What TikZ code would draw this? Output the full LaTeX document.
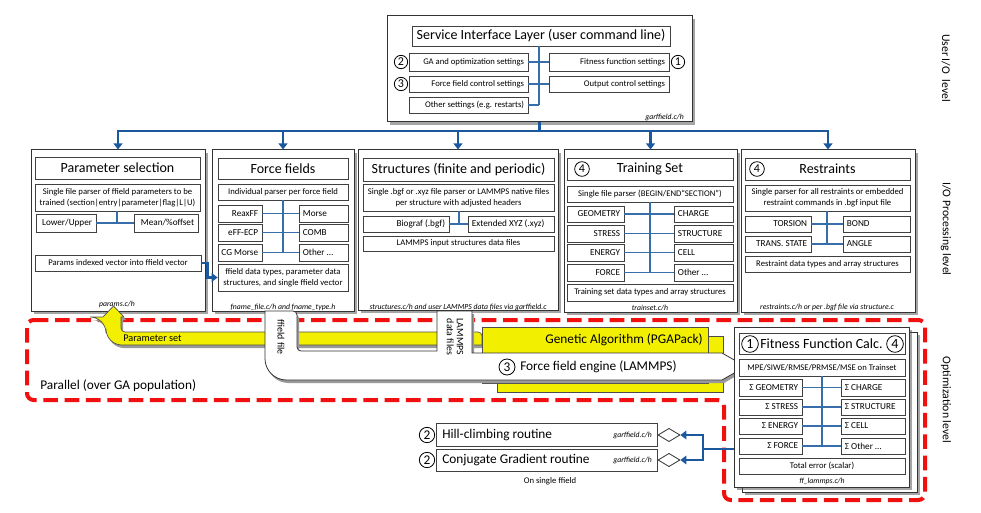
\documentclass[tikz,border=0pt]{standalone}
\usepackage{fontspec}
\setmainfont{Carlito}
\usetikzlibrary{fit,shadows,shapes.geometric,arrows.meta,calc}
\definecolor{lblue}{RGB}{55,110,170}
\definecolor{dblue}{RGB}{28,88,158}
\definecolor{yel}{RGB}{242,240,0}
\definecolor{rd}{RGB}{240,16,16}
\newcommand\fBig{\fontsize{10.5pt}{12pt}\selectfont}
\newcommand\fMed{\fontsize{10pt}{12pt}\selectfont}
\newcommand\fRow{\fontsize{6.9pt}{8pt}\selectfont}
\newcommand\fSm{\fontsize{6.5pt}{8.2pt}\selectfont}
\newcommand\fFoot{\fontsize{5.8pt}{6.8pt}\selectfont\itshape}
\newcommand\fLvl{\fontsize{8.8pt}{10pt}\selectfont}
\newcommand\fNum{\fontsize{9pt}{10pt}\selectfont}
\newcommand\BxC[7]{\node[ib, fit={(#1,#2)(#3,#4)}] (#5) {};
  \node[font=#6, align=center, inner sep=0pt] (#5t) at (#5.center) {#7};}
\newcommand\BxR[7]{\node[ib, fit={(#1,#2)(#3,#4)}] (#5) {};
  \node[font=#6, anchor=east, inner sep=0pt] (#5t) at ([xshift=-3pt]#5.east) {#7};}
\newcommand\BxL[7]{\node[ib, fit={(#1,#2)(#3,#4)}] (#5) {};
  \node[font=#6, anchor=west, inner sep=0pt] (#5t) at ([xshift=3pt]#5.west) {#7};}
\newcommand\pipepath{(265,311) {[rounded corners=16pt] -- (265,380) -- (500,380)} -- (722,380) -- (736,372) -- (736,361) -- (722,353) -- (472,353) -- (472,311) -- (437,311) -- (437,351) {[rounded corners=3pt] -- (297,351) -- (297,311)} -- cycle}
\newcommand\yelpath{(482,345) {[rounded corners=12pt] -- (106,345) -- (106,317)} -- (103,317) -- (113.5,306) -- (124,317) -- (121,317) {[rounded corners=3pt] -- (121,332) -- (482,332)} -- cycle}
\begin{document}
\begin{tikzpicture}[x=0.75pt,y=-0.75pt,
  outer/.style={draw=black!80, line width=0.75pt, fill=white, inner sep=0pt,
    drop shadow={shadow xshift=2pt, shadow yshift=-2pt, opacity=0.5, fill=black!70}},
  ib/.style={draw=black!75, line width=0.55pt, fill=white, inner sep=0pt,
    drop shadow={shadow xshift=0.7pt, shadow yshift=-0.7pt, opacity=0.25}},
  yelbox/.style={draw=black!70, line width=0.5pt, fill=yel, inner sep=0pt,
    drop shadow={shadow xshift=1pt, shadow yshift=-1pt, opacity=0.35}},
  num/.style={circle, draw=black, line width=0.6pt, fill=white, inner sep=0pt, minimum size=10pt, font=\fNum},
  bl/.style={draw=lblue, line width=1pt},
  bus/.style={draw=dblue, line width=2.2pt},
  btip/.style={-{Triangle[width=6.5pt,length=4.5pt]}},
  foot/.style={font=\fFoot, inner sep=0pt}]
\useasboundingbox (0,0) rectangle (981,513);

% ---------------- Service interface layer
\node[outer, fit={(387,16)(692,122)}] (sil) {};
\BxC{412}{26}{670}{46}{silti}{\fBig}{Service Interface Layer (user command line)}
\BxR{409}{53}{528}{71}{ga}{\fSm}{GA and optimization settings}
\BxR{549}{53}{669}{71}{fitset}{\fSm}{Fitness function settings}
\BxR{409}{76}{528}{92}{ffc}{\fSm}{Force field control settings}
\BxR{549}{76}{669}{92}{outc}{\fSm}{Output control settings}
\BxR{409}{97}{528}{113}{oth}{\fSm}{Other settings (e.g. restarts)}
\node[num] (n2a) at (401,62) {2};
\node[num] (n3a) at (401,84) {3};
\node[num] (n1a) at (678,62) {1};
\coordinate (silv) at (539,105);
\draw[bl] (silti.south -| silv) -- (silv);
\draw[bl] (ga.east) -- (fitset.west);
\draw[bl] (ffc.east) -- (outc.west);
\draw[bl] (oth.east) -- (silv);
\node[foot, anchor=east] (silf) at (684,117) {garffield.c/h};

% ---------------- Parameter selection
\node[outer, fit={(31,150)(205,311)}] (ps) {};
\BxC{35}{157}{200}{179}{psti}{\fBig}{Parameter selection}
\BxC{35}{184}{200}{211}{pspar}{\fSm}{Single file parser of ffield parameters to be\\trained (section|entry|parameter|flag|L|U)}
\BxR{36}{214}{96}{232}{lowup}{\fRow}{Lower/Upper}
\BxR{134}{214}{198}{232}{mean}{\fRow}{Mean/\%offset}
\BxC{35}{255}{201}{271}{params}{\fSm}{Params indexed vector into ffield vector}
\coordinate (psv) at (117,223);
\draw[bl] (pspar.south -| psv) -- (psv);
\draw[bl] (lowup.east) -- (mean.west);
\node[foot] (psf) at (117,304) {params.c/h};

% ---------------- Force fields
\node[outer, fit={(212,150)(354,311)}] (ff) {};
\BxC{218}{158}{348}{179}{ffti}{\fBig}{Force fields}
\BxC{218}{184}{348}{200}{ffpar}{\fSm}{Individual parser per force field}
\BxR{218}{205}{262}{222}{reax}{\fRow}{ReaxFF}
\BxL{299}{205}{348}{222}{morse}{\fRow}{Morse}
\BxR{218}{224}{262}{241}{eff}{\fRow}{eFF-ECP}
\BxL{299}{224}{348}{241}{comb}{\fRow}{COMB}
\BxR{218}{244}{262}{261}{cgm}{\fRow}{CG Morse}
\BxL{299}{244}{348}{261}{ffoth}{\fRow}{Other \ldots}
\BxC{218}{264}{348}{291}{ffdata}{\fSm}{ffield data types, parameter data\\structures, and single ffield vector}
\coordinate (ffv) at (283,252.5);
\draw[bl] (ffpar.south -| ffv) -- (ffv);
\draw[bl] (reax.east) -- (morse.west);
\draw[bl] (eff.east) -- (comb.west);
\draw[bl] (cgm.east) -- (ffoth.west);
\node[foot] (fff) at (283,307) {fname\_file.c/h and fname\_type.h};

% ---------------- Structures
\node[outer, fit={(358,150)(558,310)}] (st) {};
\BxC{363}{158}{554}{181}{stti}{\fBig}{Structures (finite and periodic)}
\BxC{363}{184}{554}{211}{stpar}{\fSm}{Single .bgf or .xyz file parser or LAMMPS native files\\per structure with adjusted headers}
\BxR{363}{216}{449}{232}{bgf}{\fRow}{Biograf (.bgf)}
\BxL{468}{216}{554}{232}{xyz}{\fRow}{Extended XYZ (.xyz)}
\BxC{363}{236}{554}{251}{lmp}{\fSm}{LAMMPS input structures data files}
\coordinate (stv) at (459,224);
\draw[bl] (stpar.south -| stv) -- (stv);
\draw[bl] (bgf.east) -- (xyz.west);
\node[foot] (stf) at (458,307) {structures.c/h and user LAMMPS data files via garffield.c};

% ---------------- Training set
\node[outer, fit={(564,150)(737,312)}] (ts) {};
\BxC{567}{158}{733}{180}{tsti}{\fBig}{Training Set}
\node[num, minimum size=11pt] (n4a) at (582,169) {4};
\BxC{567}{186}{733}{202}{tspar}{\fSm}{Single file parser (BEGIN/END“SECTION”)}
\BxR{567}{206}{624}{222}{geo}{\fRow}{GEOMETRY}
\BxL{674}{206}{733}{222}{chg}{\fRow}{CHARGE}
\BxR{567}{225}{624}{242}{stress}{\fRow}{STRESS}
\BxL{674}{225}{733}{242}{struc}{\fRow}{STRUCTURE}
\BxR{567}{244}{624}{261}{energy}{\fRow}{ENERGY}
\BxL{674}{244}{733}{261}{cell}{\fRow}{CELL}
\BxR{567}{264}{624}{281}{force}{\fRow}{FORCE}
\BxL{674}{264}{733}{281}{tsoth}{\fRow}{Other \ldots}
\BxC{567}{284}{733}{301}{tsdata}{\fSm}{Training set data types and array structures}
\coordinate (tsv) at (650,272.5);
\draw[bl] (tspar.south -| tsv) -- (tsv);
\draw[bl] (geo.east) -- (chg.west);
\draw[bl] (stress.east) -- (struc.west);
\draw[bl] (energy.east) -- (cell.west);
\draw[bl] (force.east) -- (tsoth.west);
\node[foot] (tsf) at (650,308) {trainset.c/h};

% ---------------- Restraints
\node[outer, fit={(741,150)(915,312)}] (rs) {};
\BxC{745}{158}{910}{180}{rsti}{\fBig}{Restraints}
\node[num, minimum size=11pt] (n4b) at (757,169) {4};
\BxC{745}{185}{910}{211}{rspar}{\fSm}{Single parser for all restraints or embedded\\restraint commands in .bgf input file}
\BxR{745}{216}{811}{232}{tors}{\fRow}{TORSION}
\BxL{843}{216}{910}{232}{bond}{\fRow}{BOND}
\BxR{745}{236}{811}{252}{trans}{\fRow}{TRANS. STATE}
\BxL{843}{236}{910}{252}{angle}{\fRow}{ANGLE}
\BxC{745}{256}{910}{272}{rsdata}{\fSm}{Restraint data types and array structures}
\coordinate (rsv) at (827,244);
\draw[bl] (rspar.south -| rsv) -- (rsv);
\draw[bl] (tors.east) -- (bond.west);
\draw[bl] (trans.east) -- (angle.west);
\node[foot] (rsf) at (827,307) {restraints.c/h or per .bgf file via structure.c};

% ---------------- bus
\coordinate (busc) at (539.5,131);
\draw[bus] (sil.south) -- (busc);
\foreach \b in {ps,ff,st,ts,rs} \draw[bus,btip] (busc) -| (\b.north);
\draw[bus,btip] (params.east) -- ++(6,0) |- (ffdata.west);

% ---------------- Parallel region
\draw[rd, line width=3pt, dash pattern=on 11pt off 5pt, rounded corners=5pt]
  (27,320) -- (925,320) -- (925,500) -- (724,500) -- (724,400) -- (27,400) -- cycle;
\node[font=\fMed, anchor=west, inner sep=0pt] (par) at (40,386) {Parallel (over GA population)};

% yellow parameter set band
\fill[black!40, shift={(2,3)}] \yelpath;
\filldraw[fill=yel, draw=black!70, line width=0.5pt] \yelpath;
\node[font=\fontsize{7.7pt}{9pt}\selectfont, anchor=west, inner sep=0pt] (pset) at (123,338.5) {Parameter set};

% GA boxes
\node[yelbox, fit={(497,336)(723,392)}] (gaback) {};
\node[yelbox, fit={(482,327)(708,383)}] (gafront) {};
\node[font=\fMed, anchor=east, inner sep=0pt] (gat) at (703,340) {Genetic Algorithm (PGAPack)};

% white pipe
\fill[black!40, shift={(2,3)}] \pipepath;
\filldraw[fill=white, draw=black!80, line width=0.6pt] \pipepath;
\node[font=\fontsize{7.4pt}{8pt}\selectfont, rotate=-90, inner sep=0pt] (fffile) at (281,337) {ffield file};
\node[font=\fontsize{7.4pt}{7.6pt}\selectfont, rotate=-90, align=center, inner sep=0pt] (lmpfile) at (455,337) {LAMMPS\\data files};
\node[num, minimum size=12pt, font=\fontsize{10pt}{11pt}\selectfont] (n3b) at (507,367) {3};
\node[font=\fMed, anchor=west, inner sep=0pt] (ffe) at (520,367) {Force field engine (LAMMPS)};

% ---------------- Fitness function
\node[outer, fit={(742,332)(917,492)}] (fitback) {};
\node[outer, fit={(734,327)(909,487)}] (fitfront) {};
\node[ib, fit={(739,333)(905,354)}] (fiti) {};
\node[num, minimum size=12.5pt, font=\fontsize{10.5pt}{11pt}\selectfont] (n1b) at (750,344) {1};
\node[font=\fBig, anchor=west, inner sep=0pt] (fitit) at (760,344) {Fitness Function Calc.};
\node[num, minimum size=12.5pt, font=\fontsize{10.5pt}{11pt}\selectfont] (n4c) at (895,344) {4};
\BxC{739}{359}{905}{376}{mpe}{\fSm}{MPE/SIWE/RMSE/PRMSE/MSE on Trainset}
\BxR{739}{379}{802}{396}{sgeo}{\fRow}{Σ GEOMETRY}
\BxL{841}{379}{905}{396}{schg}{\fRow}{Σ CHARGE}
\BxR{739}{399}{802}{415}{sstr}{\fRow}{Σ STRESS}
\BxL{841}{399}{905}{415}{sstruc}{\fRow}{Σ STRUCTURE}
\BxR{739}{418}{802}{434}{sen}{\fRow}{Σ ENERGY}
\BxL{841}{418}{905}{434}{scell}{\fRow}{Σ CELL}
\BxR{739}{438}{802}{454}{sfor}{\fRow}{Σ FORCE}
\BxL{841}{438}{905}{454}{soth}{\fRow}{Σ Other \ldots}
\BxC{739}{458}{905}{474}{total}{\fSm}{Total error (scalar)}
\coordinate (fv) at (822,446);
\draw[bl] (mpe.south -| fv) -- (fv);
\draw[bl] (sgeo.east) -- (schg.west);
\draw[bl] (sstr.east) -- (sstruc.west);
\draw[bl] (sen.east) -- (scell.west);
\draw[bl] (sfor.east) -- (soth.west);
\node[foot] (fitf) at (822,481) {ff\_lammps.c/h};

% ---------------- single ffield routines
\node[ib, fit={(436,423)(657,446)}] (hill) {};
\node[font=\fMed, anchor=west, inner sep=0pt] (hillt) at (442,435) {Hill-climbing routine};
\node[foot, anchor=east] (hillf) at (652,435) {garffield.c/h};
\node[num, minimum size=11.5pt, font=\fontsize{10pt}{11pt}\selectfont] (n2b) at (427,435) {2};
\node[ib, fit={(436,449)(657,471)}] (cg) {};
\node[font=\fMed, anchor=west, inner sep=0pt] (cgt) at (442,460) {Conjugate Gradient routine};
\node[foot, anchor=east] (cgf) at (652,460) {garffield.c/h};
\node[num, minimum size=11.5pt, font=\fontsize{10pt}{11pt}\selectfont] (n2c) at (427,460) {2};
\node[diamond, draw=black!80, fill=white, line width=0.6pt, minimum width=16.5pt, minimum height=10pt, inner sep=0pt] (dia1) at (669,435) {};
\node[diamond, draw=black!80, fill=white, line width=0.6pt, minimum width=16.5pt, minimum height=10pt, inner sep=0pt] (dia2) at (669,460) {};
\node[font=\fSm, inner sep=0pt] (single) at (550,481) {On single ffield};
\coordinate (fj) at (703,449);
\draw[bus] (fitfront.west |- fj) -- (fj);
\draw[bus,btip] (fj) |- (dia1.east);
\draw[bus,btip] (fj) |- (dia2.east);

% ---------------- level labels
\node[font=\fLvl, rotate=-90, inner sep=0pt] (lv1) at (946,68) {User I/O\ \ level};
\node[font=\fLvl, rotate=-90, inner sep=0pt] (lv2) at (946,229) {I/O Processing level};
\node[font=\fLvl, rotate=-90, inner sep=0pt] (lv3) at (946,400) {Optimization level};
\end{tikzpicture}
\end{document}
